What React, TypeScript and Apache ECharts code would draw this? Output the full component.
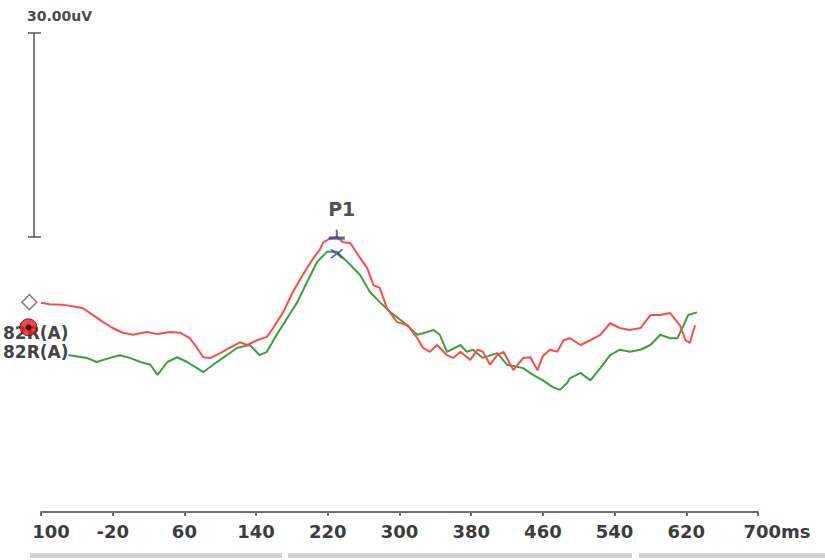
import React, { useEffect, useRef } from "react";
import * as echarts from "echarts";

// tick labels of the time axis (ms), one per 80 ms from -100 to 700
const tickLabels = ["100", "-20", "60", "140", "220", "300", "380", "460", "540", "620", "700ms"];
const axisStartMs = -100;
const axisEndMs = 700;
const tickStepMs = 80;

// red trace (ms, uV)
const redMs = [-100, -90, -75, -60, -53, -42, -31, -20, -9, 3, 18, 30, 44, 55, 66, 74, 81, 89, 100, 111, 122, 130, 141, 152, 159, 170, 181, 192, 204, 211, 215, 223, 230, 237, 245, 256, 264, 271, 278, 286, 297, 309, 320, 326, 334, 342, 353, 360, 368, 379, 387, 393, 401, 409, 416, 427, 438, 446, 454, 460, 468, 476, 483, 490, 502, 513, 524, 535, 546, 557, 569, 580, 591, 602, 608, 613, 619, 624, 628, 630];
const redUv = [4.0, 3.8, 3.7, 3.4, 3.2, 2.2, 1.2, 0.3, -0.4, -0.7, -0.3, -0.6, -0.3, -0.4, -1.2, -2.6, -4.0, -4.1, -3.4, -2.6, -1.8, -2.2, -1.5, -1.0, 0.3, 2.6, 5.6, 8.1, 10.6, 11.8, 12.9, 13.5, 13.7, 12.9, 12.8, 10.6, 9.1, 6.6, 6.2, 3.2, 1.2, 0.7, -1.2, -2.6, -3.2, -2.2, -3.7, -4.1, -3.2, -4.4, -2.9, -3.2, -5.1, -3.7, -3.2, -5.9, -4.1, -4.0, -5.9, -3.8, -2.9, -3.2, -1.5, -1.2, -2.2, -1.5, -0.7, 1.0, 0.3, 0, 0.3, 2.2, 2.2, 2.5, 1.5, 0.7, -1.5, -1.9, 0, 0.7];

// green trace (ms, uV)
const greenMs = [-100, -79, -49, -38, -23, -12, -1, 11, 22, 30, 41, 52, 63, 74, 81, 92, 103, 119, 133, 144, 152, 163, 175, 186, 197, 208, 219, 230, 242, 256, 267, 278, 290, 304, 320, 331, 338, 345, 353, 368, 375, 382, 393, 409, 420, 431, 438, 449, 460, 471, 479, 487, 490, 502, 513, 524, 535, 546, 557, 569, 580, 591, 602, 610, 617, 622, 632];
const greenUv = [-3.7, -3.5, -4.1, -4.7, -4.1, -3.7, -4.1, -4.7, -5.1, -6.6, -4.7, -4.0, -4.7, -5.6, -6.2, -5.1, -4.1, -2.6, -2.2, -3.7, -3.2, -0.7, 1.8, 4.1, 7.1, 10.0, 11.5, 11.5, 10.0, 8.1, 5.6, 4.1, 2.6, 1.2, -0.7, -0.3, 0, -0.7, -3.2, -2.2, -3.2, -2.9, -4.1, -3.4, -5.1, -5.4, -5.6, -6.6, -7.4, -8.4, -8.8, -7.8, -7.1, -6.3, -7.4, -5.6, -3.7, -2.9, -3.2, -2.9, -2.2, -0.7, -1.2, -1.2, 0.7, 2.2, 2.6];

// P1 peak
const peakName = "P1";
const peakMs = 230;
const redPeakUv = 13.7;
const greenPeakUv = 11.2;

// channel start markers
const markerMs = -113;
const diamondUv = 4.1;
const dotUv = 0.4;

const channelLabels = ["82R(A)", "82R(A)"];
const scaleLabel = "30.00uV";
const scaleUv = 30;
const yMin = -26.76;
const yMax = 43.68;

const shift = (ms: number) => ms - axisStartMs;
const toPairs = (xs: number[], ys: number[]) => xs.map((x, i) => [shift(x), ys[i]]);

export default function App() {
  const ref = useRef<HTMLDivElement>(null);
  useEffect(() => {
    if (!ref.current) return;
    const chart = echarts.init(ref.current, null, { renderer: "svg" });
    const labelFont = { fontSize: 18, fontFamily: "DejaVu Sans", color: "#3c3c3c", fontWeight: "bold" as const };
    chart.setOption({
      animation: false,
      backgroundColor: "#ffffff",
      grid: { left: 41, right: 67, top: 33, bottom: 48 },
      xAxis: {
        type: "value",
        min: 0,
        max: axisEndMs - axisStartMs,
        interval: tickStepMs,
        splitLine: { show: false },
        axisLine: { show: true, onZero: false, lineStyle: { color: "#6e6e6e", width: 2 } },
        axisTick: { show: true, length: 4, lineStyle: { color: "#6e6e6e", width: 2 } },
        axisLabel: {
          margin: 10,
          showMinLabel: true,
          showMaxLabel: true,
          ...labelFont,
          formatter: (v: number) => {
            const i = Math.round(v / tickStepMs);
            const t = tickLabels[i] ?? "";
            if (i === 0) return `{f|${t}}`;
            if (i === tickLabels.length - 1) return `{l|${t}}`;
            return t;
          },
          rich: {
            f: { ...labelFont, padding: [0, 0, 0, 20] },
            l: { ...labelFont, padding: [0, 0, 0, 38] },
          },
        },
      },
      yAxis: { type: "value", min: yMin, max: yMax, show: false, splitLine: { show: false } },
      series: [
        {
          type: "line",
          data: toPairs(greenMs, greenUv),
          showSymbol: false,
          lineStyle: { color: "#3f9f3f", width: 2 },
          z: 3,
        },
        {
          type: "line",
          data: toPairs(redMs, redUv),
          showSymbol: false,
          lineStyle: { color: "#ff4b4b", width: 2 },
          z: 4,
        },
        {
          type: "scatter",
          clip: false,
          z: 6,
          data: [[shift(peakMs), redPeakUv]],
          symbol: "path://M0,6 L16,6 L16,9 L0,9 Z M7,0 L9,0 L9,6 L7,6 Z",
          symbolSize: [16, 10],
          symbolOffset: [0, -2],
          itemStyle: { color: "#3b3b9b" },
          label: {
            show: true,
            formatter: peakName,
            position: "top",
            distance: 11,
            offset: [5, 0],
            fontSize: 19,
            fontWeight: "bold",
            fontFamily: "DejaVu Sans",
            color: "#222222",
          },
        },
        {
          type: "scatter",
          clip: false,
          z: 6,
          data: [[shift(peakMs), greenPeakUv]],
          symbol: "path://M0,0 L3,0 L8,4 L13,0 L16,0 L10,5 L16,10 L13,10 L8,6 L3,10 L0,10 L6,5 Z",
          symbolSize: [14, 9],
          itemStyle: { color: "#3b3b9b" },
        },
        {
          type: "scatter",
          clip: false,
          z: 7,
          data: [[shift(markerMs), diamondUv]],
          symbol: "diamond",
          symbolSize: 15,
          itemStyle: { color: "#ffffff", borderColor: "#666666", borderWidth: 1.5 },
        },
        {
          type: "scatter",
          clip: false,
          z: 7,
          data: [[shift(markerMs - 1), dotUv]],
          symbol: "circle",
          symbolSize: 17,
          itemStyle: { color: "#ee1c1c", borderColor: "#5a1010", borderWidth: 1 },
        },
        {
          type: "scatter",
          clip: false,
          z: 8,
          data: [[shift(markerMs - 1), dotUv]],
          symbol: "circle",
          symbolSize: 6,
          itemStyle: { color: "#111111" },
        },
      ],
    });

    // scale bar from convertToPixel (30 uV)
    const top = chart.convertToPixel({ xAxisIndex: 0, yAxisIndex: 0 }, [0, yMax]);
    const bot = chart.convertToPixel({ xAxisIndex: 0, yAxisIndex: 0 }, [0, yMax - scaleUv]);
    const sx = 34;
    const barStyle = { stroke: "#555555", lineWidth: 1.5 };
    const chLabel = (y: number, text: string) => ({
      type: "text",
      z: 5,
      style: {
        x: 3,
        y,
        text,
        fill: "#444444",
        fontSize: 17,
        fontWeight: "bold",
        fontFamily: "DejaVu Sans",
        verticalAlign: "middle",
        backgroundColor: "#ffffff",
      },
    });
    chart.setOption({
      graphic: [
        { type: "line", shape: { x1: sx, y1: top[1], x2: sx, y2: bot[1] }, style: barStyle },
        { type: "line", shape: { x1: sx - 6, y1: top[1], x2: sx + 7, y2: top[1] }, style: barStyle },
        { type: "line", shape: { x1: sx - 6, y1: bot[1], x2: sx + 7, y2: bot[1] }, style: barStyle },
        {
          type: "text",
          style: { x: 27, y: 16, text: scaleLabel, fill: "#4a4a4a", fontSize: 14, fontWeight: "bold", fontFamily: "DejaVu Sans", verticalAlign: "middle" },
        },
        chLabel(333, channelLabels[0]),
        chLabel(352, channelLabels[1]),
        { type: "rect", shape: { x: 30, y: 553, width: 252, height: 5 }, style: { fill: "#d2d2d2" } },
        { type: "rect", shape: { x: 288, y: 553, width: 344, height: 5 }, style: { fill: "#d2d2d2" } },
        { type: "rect", shape: { x: 639, y: 553, width: 186, height: 5 }, style: { fill: "#d2d2d2" } },
      ],
    });
    return () => chart.dispose();
  }, []);
  return <div ref={ref} style={{ width: 825, height: 560, position: "absolute", left: 0, top: 0 }} />;
}
